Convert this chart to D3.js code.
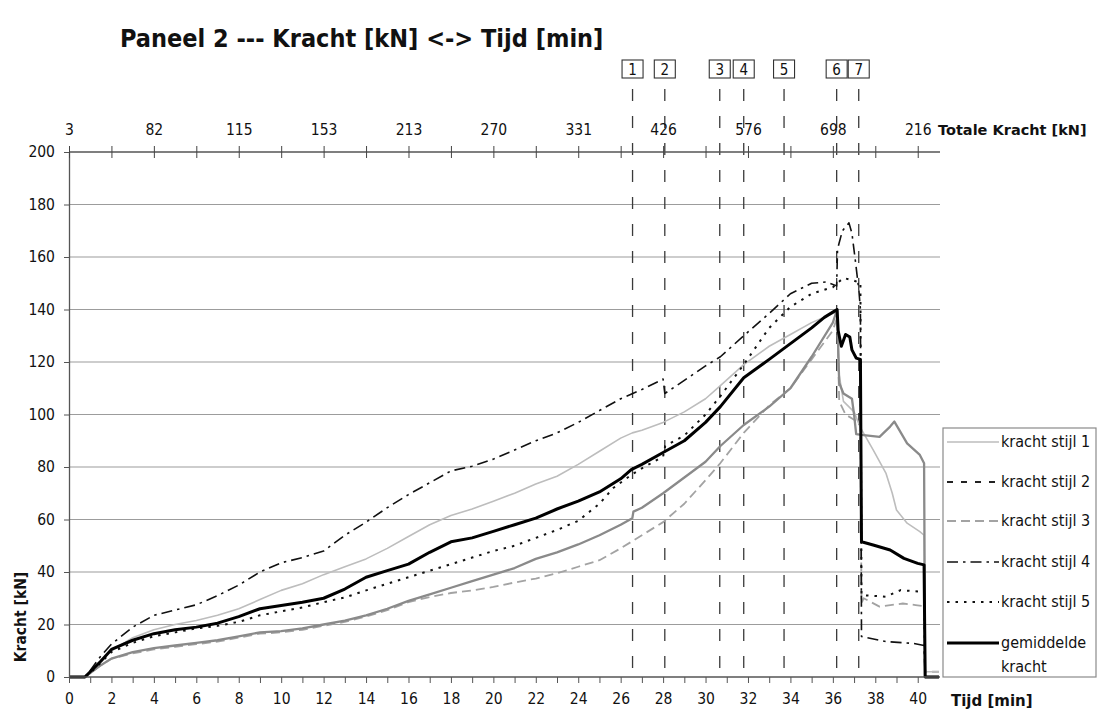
<!DOCTYPE html>
<html>
<head>
<meta charset="utf-8">
<script src="https://cdn.jsdelivr.net/npm/d3@7/dist/d3.min.js"></script>
<style>
  html, body { margin: 0; padding: 0; background: #fff; }
  svg { display: block; }
</style>
</head>
<body>
<svg id="chart" width="1099" height="715"></svg>
<script>
// ---- data: [tijd (min), kracht (kN)] ----
const stijl1 = [[0,0],[0.75,0],[1,2],[1.5,6.5],[2,10],[3,15],[4,18],[5,20],[6,21.5],[7,23.5],[8,26],[9,29.5],[10,33],[11,35.5],[12,39],[13,42],[14,45],[15,49],[16,53.5],[17,58],[18,61.5],[19,64],[20,67],[21,70],[22,73.5],[23,76.5],[24,81],[25,86],[26,91],[26.55,93],[27,94],[28,97],[29,101],[30,106],[30.7,111],[31.8,119],[33,126],[34,130.5],[35,135],[36,138.5],[36.2,139],[36.3,115],[36.5,105],[37,101],[37.3,95],[37.9,86.5],[38.5,77.7],[38.8,70],[39,63.6],[39.5,58.6],[40.1,55.4],[40.3,54],[40.35,2],[41,2]];

const stijl2 = [[0,0],[0.75,0],[1,1.5],[1.5,4.5],[2,7],[3,9.5],[4,11],[5,12],[6,13],[7,14],[8,15.5],[9,17],[10,17.5],[11,18.5],[12,20],[13,21.5],[14,23.5],[15,26],[16,29],[17,31.5],[18,34],[19,36.5],[20,39],[21,41.5],[22,45],[23,47.5],[24,50.5],[25,54],[26,58],[26.55,60.5],[26.6,63],[27,64.5],[28,70],[29,76],[30,82],[30.7,88],[31.8,96],[33,103],[34,110],[35,122],[36,135],[36.2,140],[36.3,112],[36.5,108],[36.9,106],[37,100],[37.1,92.5],[37.35,92.2],[38.2,91.5],[38.7,95.4],[38.9,97.3],[39.5,89],[40.1,84.6],[40.3,81.4],[40.35,0],[41,0]];

const stijl3 = [[0,0],[0.75,0],[1,1.5],[1.5,4.5],[2,7],[3,9],[4,10.5],[5,11.5],[6,12.5],[7,13.5],[8,15],[9,16.5],[10,17],[11,18],[12,19.5],[13,21],[14,23],[15,25.5],[16,28.5],[17,30.5],[18,32],[19,33],[20,34.3],[21,36],[22,37.5],[23,39.5],[24,42],[25,44.5],[26,49],[27,54],[28,59],[29,66],[30,75],[30.7,81.5],[31.8,93],[33,103.5],[34,110],[35,121],[36,132],[36.2,137],[36.3,105],[36.6,100],[37,98],[37.3,97],[37.35,28],[37.45,30],[38.2,26.8],[39.3,28],[39.9,27.4],[40.3,27],[40.35,2],[41,2]];

const stijl4 = [[0,0],[0.75,0],[1,2.5],[1.5,8],[2,12.5],[3,19],[4,23.5],[5,25.5],[6,27.5],[7,31],[8,35],[9,40],[10,43.5],[11,45.5],[12,48],[13,54],[14,59],[15,64.5],[16,69.5],[17,74],[18,78.5],[19,80.3],[20,83],[21,86.5],[22,90],[23,93],[24,97],[25,101.5],[26,106],[27,109.5],[28,113.5],[28.08,108],[29,113],[30,118.5],[30.7,122],[31.8,130],[33,138.5],[34,146],[35,150],[35.7,150.5],[36.18,149],[36.22,163],[36.45,170],[36.76,173],[36.9,169],[37.07,158],[37.23,147],[37.3,140],[37.35,15.4],[38.5,13.5],[39.8,12.8],[40.3,12],[40.35,0],[41,0]];

const stijl5 = [[0,0],[0.75,0],[1,1.5],[1.5,5.5],[2,9.5],[3,13],[4,15.5],[5,17],[6,18.5],[7,19.5],[8,21],[9,23.5],[10,25],[11,26.5],[12,28.5],[13,30.3],[14,33],[15,35.5],[16,38],[17,40.5],[18,43],[19,45.5],[20,48],[21,50],[22,53],[23,56],[24,59.5],[25,66],[25.65,72],[26.5,77],[27,79.5],[28,84],[28.1,88],[29,92],[30,100],[30.7,107],[31.8,119],[33,133],[34,141],[35,146],[36,148.5],[36.2,150],[36.5,152],[37,151],[37.3,150],[37.35,31.2],[38.5,30.6],[39.2,33.1],[40.1,32.5],[40.3,32],[40.35,0],[41,0]];

const gemiddelde = [[0,0],[0.75,0],[1,2],[1.5,6],[2,10.5],[3,14],[4,16.5],[5,18],[6,19],[7,20.5],[8,23],[9,26],[10,27.2],[11,28.5],[12,30],[13,33.5],[14,38],[15,40.5],[16,43],[17,47.5],[18,51.5],[19,53],[20,55.5],[21,58],[22,60.5],[23,64],[24,67],[25,70.5],[26,75.5],[26.5,79],[27,81],[28,85.5],[29,90],[30,97],[30.7,103],[31.8,114],[33,121],[34,127],[35,133],[35.6,137],[36,139],[36.2,140],[36.25,132],[36.4,126],[36.6,130.5],[36.8,129.5],[36.9,124.6],[37.1,121.5],[37.3,121],[37.35,51.5],[37.9,50.3],[38.7,48.4],[39.35,45.2],[40,43.3],[40.3,42.7],[40.35,0],[41,0]];

// totale kracht labels on the top axis, one every 4 minutes
const topLabelTimes = [0, 4, 8, 12, 16, 20, 24, 28, 32, 36, 40];
const topLabels = ["3", "82", "115", "153", "213", "270", "331", "426", "576", "698", "216"];

// event markers
const markerTimes = [26.56, 28.08, 30.67, 31.8, 33.7, 36.18, 37.22];
const markerLabels = ["1", "2", "3", "4", "5", "6", "7"];

const yTicks = [0, 20, 40, 60, 80, 100, 120, 140, 160, 180, 200];

// ---- layout ----
const FONT = "'DejaVu Sans Condensed', 'DejaVu Sans', sans-serif";
const FONT_WIDE = "'DejaVu Sans', sans-serif";
const svg = d3.select("#chart");
const x = d3.scaleLinear().domain([0, 41.05]).range([69, 940]);
const y = d3.scaleLinear().domain([0, 200]).range([677, 152]);

// title
svg.append("text")
  .attr("x", 120).attr("y", 47)
  .attr("font-family", FONT).attr("font-weight", "bold").attr("font-size", 25)
  .attr("fill", "#111")
  .text("Paneel 2 --- Kracht [kN] <-> Tijd [min]");

// horizontal gridlines
svg.append("g").selectAll("line")
  .data(yTicks.filter(v => v > 0 && v < 200))
  .join("line")
  .attr("x1", x(0)).attr("x2", 940)
  .attr("y1", d => y(d)).attr("y2", d => y(d))
  .attr("stroke", "#9c9c9c").attr("stroke-width", 1.2);

// marker lines + numbered boxes
const mk = svg.append("g");
mk.selectAll("line")
  .data(markerTimes)
  .join("line")
  .attr("x1", d => x(d)).attr("x2", d => x(d))
  .attr("y1", 89).attr("y2", y(0))
  .attr("stroke", "#3a3a3a").attr("stroke-width", 1.3)
  .attr("stroke-dasharray", "12,15");
mk.selectAll("rect")
  .data(markerTimes)
  .join("rect")
  .attr("x", d => x(d) - 10.5).attr("y", 60)
  .attr("width", 21).attr("height", 18)
  .attr("fill", "#fff").attr("stroke", "#333").attr("stroke-width", 1.1);
mk.selectAll("text")
  .data(markerTimes)
  .join("text")
  .attr("x", d => x(d)).attr("y", 75)
  .attr("text-anchor", "middle")
  .attr("font-family", FONT).attr("font-size", 15).attr("fill", "#111")
  .text((d, i) => markerLabels[i]);

// series
const line = d3.line().x(d => x(d[0])).y(d => y(d[1]));
const series = [
  { name: "kracht stijl 3", data: stijl3, color: "#a3a3a3", width: 1.8, dash: "9,5" },
  { name: "kracht stijl 1", data: stijl1, color: "#bdbdbd", width: 1.6, dash: null },
  { name: "kracht stijl 2", data: stijl2, color: "#8a8a8a", width: 2.3, dash: null },
  { name: "kracht stijl 5", data: stijl5, color: "#111", width: 2, dash: "2.5,6" },
  { name: "kracht stijl 4", data: stijl4, color: "#111", width: 1.6, dash: "11,5,2.5,5" },
  { name: "gemiddelde kracht", data: gemiddelde, color: "#000", width: 3, dash: null }
];
svg.append("g").selectAll("path")
  .data(series)
  .join("path")
  .attr("d", d => line(d.data))
  .attr("fill", "none")
  .attr("stroke", d => d.color)
  .attr("stroke-width", d => d.width)
  .attr("stroke-dasharray", d => d.dash)
  .attr("stroke-linejoin", "round");

// bottom axis (tijd)
const xAxis = svg.append("g")
  .attr("transform", `translate(0,${y(0)})`)
  .call(d3.axisBottom(x)
    .tickValues(d3.range(0, 41, 1))
    .tickFormat(d => d % 2 === 0 ? d : "")
    .tickSize(6).tickSizeOuter(0).tickPadding(10));
xAxis.select(".domain").attr("d", `M${x(0)},0H940`).attr("stroke", "#555").attr("stroke-width", 1.3);
xAxis.selectAll(".tick line").attr("stroke", "#555");
xAxis.selectAll("text").attr("font-family", FONT).attr("font-size", 15.5).attr("fill", "#111");

// left axis (kracht)
const yAxis = svg.append("g")
  .attr("transform", `translate(${x(0)},0)`)
  .call(d3.axisLeft(y).tickValues(yTicks).tickSize(5).tickSizeOuter(0).tickPadding(9));
yAxis.select(".domain").attr("stroke", "#555").attr("stroke-width", 1.3);
yAxis.selectAll(".tick line").attr("stroke", "#555");
yAxis.selectAll("text").attr("font-family", FONT).attr("font-size", 15.5).attr("fill", "#111");

// top axis (totale kracht)
const topAxis = svg.append("g")
  .attr("transform", `translate(0,${y(200)})`)
  .call(d3.axisTop(x)
    .tickValues(d3.range(0, 41, 2))
    .tickFormat(d => {
      const i = topLabelTimes.indexOf(d);
      return i >= 0 ? topLabels[i] : "";
    })
    .tickSize(6).tickSizeOuter(0).tickPadding(11));
topAxis.select(".domain").attr("d", `M${x(0)},0H940`).attr("stroke", "#555").attr("stroke-width", 1.3);
topAxis.selectAll(".tick line").attr("y1", 6).attr("y2", -6).attr("stroke", "#444");
topAxis.selectAll("text").attr("font-family", FONT).attr("font-size", 15.5).attr("fill", "#111");

// axis titles
svg.append("text")
  .attr("x", 938).attr("y", 135)
  .attr("font-family", FONT_WIDE).attr("font-weight", "bold").attr("font-size", 14.5)
  .attr("fill", "#111")
  .text("Totale Kracht [kN]");
svg.append("text")
  .attr("x", 951).attr("y", 706)
  .attr("font-family", FONT_WIDE).attr("font-weight", "bold").attr("font-size", 15)
  .attr("fill", "#111")
  .text("Tijd [min]");
svg.append("text")
  .attr("transform", "translate(21,617) rotate(-90)")
  .attr("text-anchor", "middle").attr("dominant-baseline", "central")
  .attr("font-family", FONT).attr("font-weight", "bold").attr("font-size", 15.5)
  .attr("fill", "#111")
  .text("Kracht [kN]");

// legend
const legendOrder = [
  { label: ["kracht stijl 1"], color: "#bdbdbd", width: 1.6, dash: null, y: 442 },
  { label: ["kracht stijl 2"], color: "#222", width: 2, dash: "6,8", y: 482 },
  { label: ["kracht stijl 3"], color: "#a3a3a3", width: 1.8, dash: "9,5", y: 521 },
  { label: ["kracht stijl 4"], color: "#111", width: 1.6, dash: "11,5,2.5,5", y: 562 },
  { label: ["kracht stijl 5"], color: "#111", width: 2, dash: "2.5,6", y: 602 },
  { label: ["gemiddelde", "kracht"], color: "#000", width: 3, dash: null, y: 643 }
];
const lg = svg.append("g");
lg.append("rect")
  .attr("x", 943).attr("y", 428).attr("width", 153).attr("height", 249)
  .attr("fill", "#fff").attr("stroke", "#8a8a8a").attr("stroke-width", 1.2);
const items = lg.selectAll("g.item").data(legendOrder).join("g").attr("class", "item");
items.append("line")
  .attr("x1", 947).attr("x2", 999)
  .attr("y1", d => d.y).attr("y2", d => d.y)
  .attr("stroke", d => d.color).attr("stroke-width", d => d.width)
  .attr("stroke-dasharray", d => d.dash);
items.each(function (d) {
  const g = d3.select(this);
  d.label.forEach((t, i) => {
    g.append("text")
      .attr("x", 1001).attr("y", d.y + 5 + i * 24)
      .attr("font-family", FONT).attr("font-size", 16).attr("fill", "#111")
      .text(t);
  });
});
</script>
</body>
</html>
